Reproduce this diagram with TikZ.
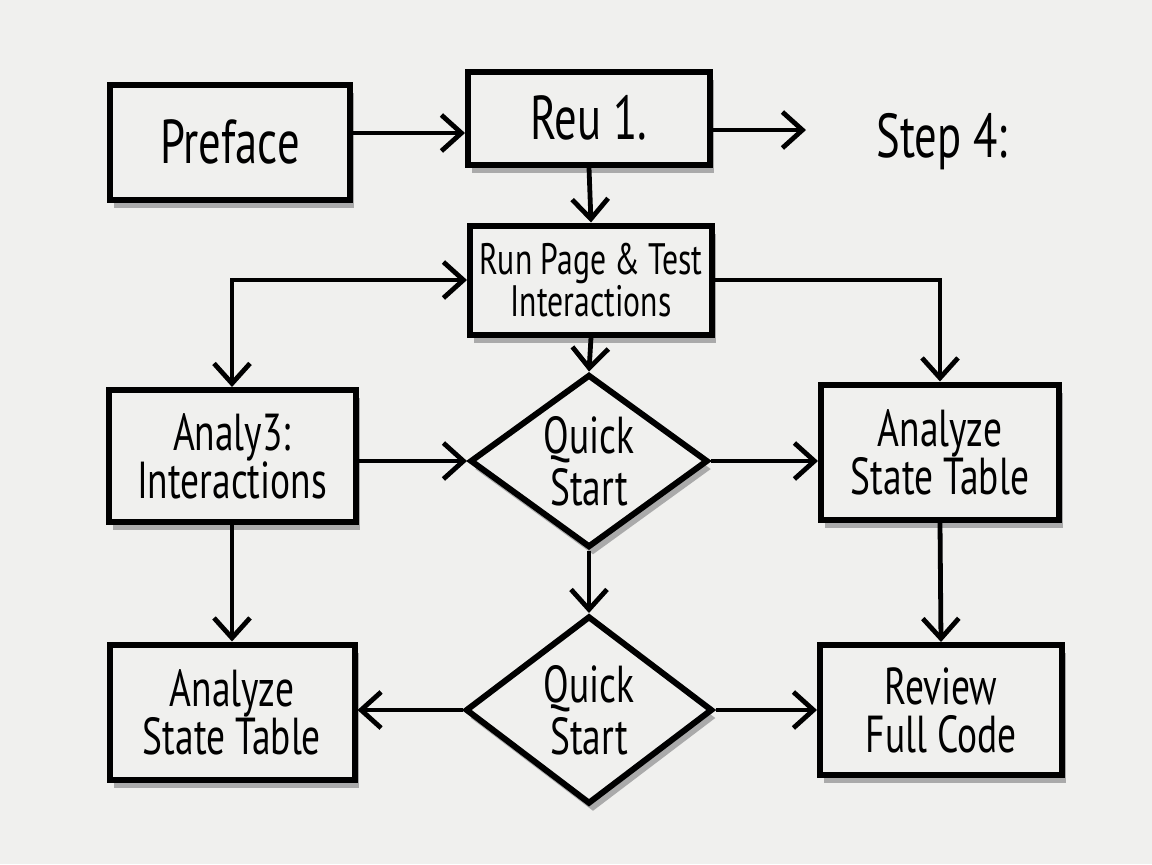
\documentclass[tikz,border=0pt]{standalone}
\usepackage{fontspec}
\setmainfont{PT Sans}[FakeStretch=0.72]
\usetikzlibrary{arrows.meta,shapes.geometric,shadows}
\definecolor{paper}{RGB}{240,240,238}
\definecolor{shade}{RGB}{170,170,170}
\tikzset{
  sh/.style={drop shadow={shadow xshift=2pt,shadow yshift=-4pt,fill=shade,opacity=1}},
  box/.style={draw=black,line width=3pt,fill=paper,rectangle,inner sep=0pt,align=center,sh},
  dia/.style={draw=black,line width=3pt,fill=paper,shape=diamond,aspect=1.37,inner sep=0pt,align=center,sh},
  barb/.tip={Straight Barb[length=10pt,width=18pt,line width=2.4pt]},
  conn/.style={line width=2.4pt,-barb},
  big/.style={font=\fontsize{31}{28}\selectfont},
  mid/.style={font=\fontsize{26}{24}\selectfont},
  small/.style={font=\fontsize{22}{20}\selectfont},
}
\begin{document}
\begin{tikzpicture}[x=0.5pt,y=-0.5pt]
\fill[paper] (0,0) rectangle (1152,864);
\useasboundingbox (0,0) rectangle (1152,864);
% nodes
\node[box,big,minimum width=120pt,minimum height=57.5pt] (pre) at (230,142) {Preface};
\node[box,big,minimum width=121pt,minimum height=46.5pt] (reu) at (589,118) {Reu 1.};
\node[big] (step) at (942,142) {Step 4:};
\coordinate (stepin) at (806,130);
\node[box,small,minimum width=121pt,minimum height=54.5pt] (run) at (591,280) {Run Page \& Test\\Interactions};
\node[box,mid,minimum width=123.5pt,minimum height=66pt] (ana3) at (232,456) {Analy3:\\Interactions};
\node[dia,mid,minimum width=119pt,minimum height=86.5pt] (qs1) at (589,461) {Quick\\[2pt]Start};
\node[box,mid,minimum width=119pt,minimum height=67.5pt] (astr) at (940,452) {Analyze\\State Table};
\node[box,mid,minimum width=122.5pt,minimum height=67.5pt] (astl) at (232,712) {Analyze\\State Table};
\node[dia,mid,minimum width=123.5pt,minimum height=94pt] (qs2) at (589,710) {Quick\\[2pt]Start};
\node[box,mid,minimum width=121pt,minimum height=65pt] (rev) at (941,710) {Review\\Full Code};
% connectors
\draw[conn] ([yshift=4.5pt]pre.east) -- ([yshift=-7.5pt]reu.west);
\draw[conn] (reu.east |- stepin) -- (stepin);
\draw[conn] (reu.south) -- (run.north);
\draw[line width=2.4pt,barb-barb] (run.west) -| (ana3.north);
\draw[conn] (run.east) -| (astr.north);
\draw[conn] (run.south) -- (qs1.north);
\draw[conn] (ana3.east |- qs1.west) -- (qs1.west);
\draw[conn] (qs1.east) -- (astr.west |- qs1.east);
\draw[conn] (qs1.south) -- (qs2.north);
\draw[conn] (ana3.south) -- (astl.north);
\draw[conn] (astr.south) -- (rev.north);
\draw[conn] (qs2.west) -- (astl.east |- qs2.west);
\draw[conn] (qs2.east) -- (rev.west |- qs2.east);
\end{tikzpicture}
\end{document}
